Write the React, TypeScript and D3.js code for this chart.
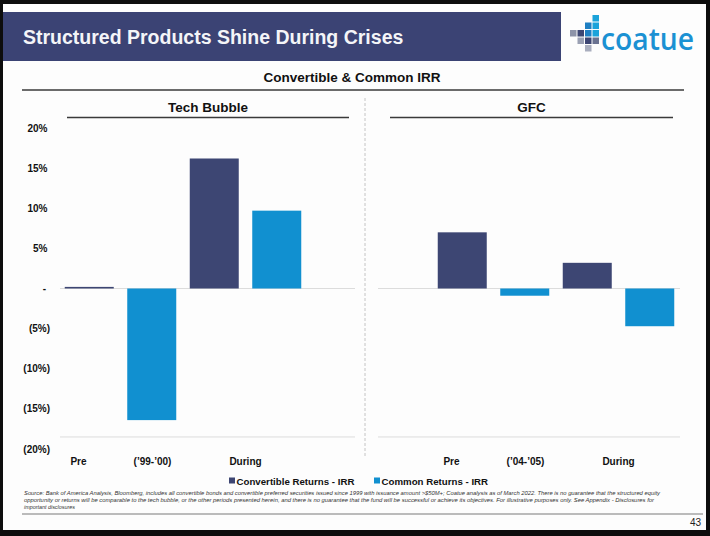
import * as d3 from 'd3';
import React, { useEffect, useRef } from 'react';

const seriesNames = ['Convertible Returns - IRR', 'Common Returns - IRR'];
const seriesColors = ['#3d4673', '#1190d0'];

const techCategories = ["Pre (’99-’00)", 'During'];
const techConvertible = [0.2, 16.2];
const techCommon = [-16.4, 9.7];

const gfcCategories = ["Pre (’04-’05)", 'During'];
const gfcConvertible = [7.0, 3.2];
const gfcCommon = [-0.9, -4.7];

const yTicks = [20, 15, 10, 5, 0, -5, -10, -15, -20];

const footnotes = [
  'Source: Bank of America Analysis, Bloomberg, includes all convertible bonds and convertible preferred securities issued since 1999 with issuance amount >$50M+; Coatue analysis as of March 2022. There is no guarantee that the structured equity',
  'opportunity or returns will be comparable to the tech bubble, or the other periods presented herein, and there is no guarantee that the fund will be successful or achieve its objectives. For illustrative purposes only. See Appendix - Disclosures for',
  'important disclosures',
];

const width = 710;
const height = 536;
const font = "'Liberation Sans', Arial, sans-serif";

const panels = [
  { title: 'Tech Bubble', categories: techCategories, values: [techConvertible, techCommon], lineX: [60, 355], barX: [58, 308], ruleX: [67, 349] },
  { title: 'GFC', categories: gfcCategories, values: [gfcConvertible, gfcCommon], lineX: [378, 680], barX: [431, 681], ruleX: [390, 673] },
];

// little pixel mark of the logo
const logoCells: [number, number, string][] = [
  [3, 0, '#1ba3da'],
  [2, 1, '#1f7fc2'],
  [3, 1, '#1ba3da'],
  [0, 2, '#8d93a8'],
  [1, 2, '#3d4673'],
  [2, 2, '#1f7fc2'],
  [3, 2, '#1ba3da'],
  [1, 3, '#9aa0b3'],
  [2, 3, '#3d4673'],
  [3, 3, '#6b7391'],
  [2, 4, '#a9aebe'],
];

const fmt = (v: number) => (v === 0 ? '-' : v > 0 ? `${v}%` : `(${-v}%)`);

export default function App() {
  const ref = useRef<SVGSVGElement>(null);

  useEffect(() => {
    document.body.style.margin = '0';
    const svg = d3.select(ref.current);
    svg.selectAll('*').remove();

    // frame + slide
    svg.append('rect').attr('width', width).attr('height', height).attr('fill', '#0d0d0d');
    svg.append('rect').attr('x', 3).attr('y', 4).attr('width', 703).attr('height', 526).attr('fill', '#fdfdfd');

    // header bar
    svg.append('rect').attr('x', 3).attr('y', 12).attr('width', 558).attr('height', 49).attr('fill', '#3b4374');
    svg.append('text')
      .attr('x', 23).attr('y', 44)
      .attr('font-family', font).attr('font-weight', 'bold').attr('font-size', 19.5)
      .attr('fill', '#f4f5f8')
      .text('Structured Products Shine During Crises');

    // logo
    const logo = svg.append('g').attr('transform', 'translate(570,15)');
    logo.selectAll('rect').data(logoCells).enter().append('rect')
      .attr('x', (d) => d[0] * 7.5)
      .attr('y', (d) => d[1] * 7.5)
      .attr('width', 6.5).attr('height', 6.5)
      .attr('fill', (d) => d[2]);
    svg.append('text')
      .attr('x', 601).attr('y', 50)
      .attr('font-family', "'Open Sans', sans-serif").attr('font-weight', 600).attr('font-size', 30)
      .attr('textLength', 93).attr('lengthAdjust', 'spacingAndGlyphs')
      .attr('fill', '#1b91d3')
      .text('coatue');

    // subtitle
    svg.append('text')
      .attr('x', 352).attr('y', 82).attr('text-anchor', 'middle')
      .attr('font-family', font).attr('font-weight', 'bold').attr('font-size', 13.5)
      .attr('fill', '#111')
      .text('Convertible & Common IRR');
    svg.append('line').attr('x1', 22).attr('x2', 684).attr('y1', 90).attr('y2', 90)
      .attr('stroke', '#3a3a3a').attr('stroke-width', 1.6);

    const y = d3.scaleLinear().domain([-20, 20]).range([449, 128]);

    // y tick labels
    svg.append('g').selectAll('text').data(yTicks).enter().append('text')
      .attr('x', (d) => (d < 0 ? 50 : d === 0 ? 46 : 47.5))
      .attr('y', (d) => y(d))
      .attr('dy', '0.35em')
      .attr('text-anchor', 'end')
      .attr('font-family', font).attr('font-weight', 'bold').attr('font-size', 10)
      .attr('fill', '#111')
      .text((d) => fmt(d));

    // separator
    svg.append('line').attr('x1', 365).attr('x2', 365).attr('y1', 98).attr('y2', 457)
      .attr('stroke', '#c4c4c4').attr('stroke-width', 1).attr('stroke-dasharray', '3,2');

    panels.forEach((p) => {
      const g = svg.append('g');

      g.append('text')
        .attr('x', (p.ruleX[0] + p.ruleX[1]) / 2).attr('y', 111.5).attr('text-anchor', 'middle')
        .attr('font-family', font).attr('font-weight', 'bold').attr('font-size', 13.5)
        .attr('fill', '#111')
        .text(p.title);
      g.append('line').attr('x1', p.ruleX[0]).attr('x2', p.ruleX[1]).attr('y1', 117.5).attr('y2', 117.5)
        .attr('stroke', '#3a3a3a').attr('stroke-width', 1.6);

      // zero and floor lines
      [0, -18.5].forEach((v) => {
        g.append('line').attr('x1', p.lineX[0]).attr('x2', p.lineX[1]).attr('y1', y(v)).attr('y2', y(v))
          .attr('stroke', '#dcdcdc').attr('stroke-width', 1);
      });

      const x0 = d3.scaleBand<string>().domain(p.categories).range(p.barX as [number, number]).padding(0);
      const x1 = d3.scaleBand<string>().domain(seriesNames).range([0, x0.bandwidth()]).paddingInner(0.216).paddingOuter(0.108);

      const groups = g.selectAll('g.cat').data(p.categories).enter().append('g')
        .attr('class', 'cat')
        .attr('transform', (c) => `translate(${x0(c)},0)`);

      groups.selectAll('rect')
        .data((c, i) => seriesNames.map((s, si) => ({ s, si, v: p.values[si][i] })))
        .enter().append('rect')
        .attr('x', (d) => x1(d.s) as number)
        .attr('width', x1.bandwidth())
        .attr('y', (d) => y(Math.max(0, d.v)))
        .attr('height', (d) => Math.abs(y(d.v) - y(0)))
        .attr('fill', (d) => seriesColors[d.si]);

      // category labels
      p.categories.forEach((c) => {
        const cx = (x0(c) as number) + x0.bandwidth() / 2;
        const sp = c.indexOf(' ');
        const parts = sp > 0 ? [[c.slice(0, sp), cx - 42], [c.slice(sp + 1), cx + 32]] : [[c, cx]];
        parts.forEach(([t, px]) => {
          g.append('text')
            .attr('x', px as number).attr('y', 464.5).attr('text-anchor', 'middle')
            .attr('font-family', font).attr('font-weight', 'bold').attr('font-size', 10)
            .attr('fill', '#111')
            .text(t as string);
        });
      });
    });

    // legend
    const legendX = [229, 374];
    seriesNames.forEach((s, i) => {
      svg.append('rect').attr('x', legendX[i]).attr('y', 477.5).attr('width', 6).attr('height', 6)
        .attr('fill', seriesColors[i]);
      svg.append('text')
        .attr('x', legendX[i] + 7.5).attr('y', 484.5)
        .attr('font-family', font).attr('font-weight', 'bold').attr('font-size', 9.7)
        .attr('fill', '#111')
        .text(s);
    });

    // footnote
    const lens = [636, 630, null];
    footnotes.forEach((t, i) => {
      const tx = svg.append('text')
        .attr('x', 24).attr('y', 495 + i * 6.8)
        .attr('font-family', font).attr('font-style', 'italic').attr('font-size', 5.4)
        .attr('fill', '#333')
        .text(t);
      if (lens[i]) tx.attr('textLength', lens[i] as number).attr('lengthAdjust', 'spacingAndGlyphs');
    });
    svg.append('line').attr('x1', 22).attr('x2', 703).attr('y1', 514).attr('y2', 514)
      .attr('stroke', '#7a7a7a').attr('stroke-width', 1.2);
    svg.append('text')
      .attr('x', 701).attr('y', 525.5).attr('text-anchor', 'end')
      .attr('font-family', font).attr('font-size', 10)
      .attr('fill', '#222')
      .text('43');
  }, []);

  return <svg ref={ref} width={width} height={height} style={{ display: 'block' }} />;
}
